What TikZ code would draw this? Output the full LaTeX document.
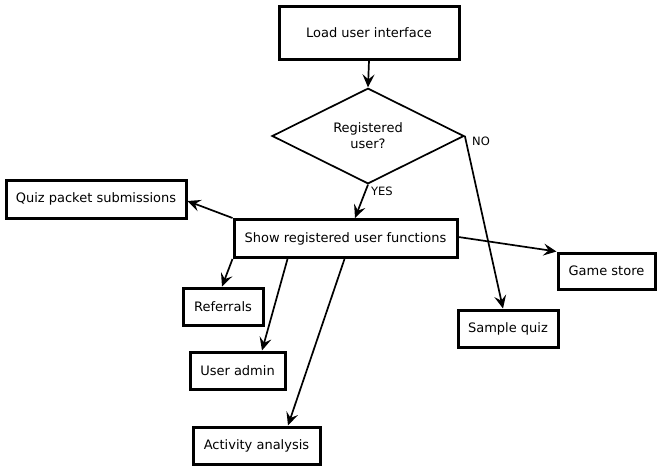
\documentclass[tikz,border=0pt]{standalone}
\usepackage{fontspec}
\setmainfont{DejaVu Sans}
\usetikzlibrary{arrows.meta,shapes.geometric}
\begin{document}
\begin{tikzpicture}[x=1pt,y=-1pt,
  every node/.style={font=\fontsize{13}{16}\selectfont, text=black},
  boxst/.style={draw, line width=3pt, inner sep=0pt, align=center},
  arr/.style={line width=1.7pt, -{Stealth[length=13pt,width=12pt,inset=5pt]}},
  lbl/.style={font=\fontsize{11.5}{13}\selectfont, inner sep=0pt}]
\useasboundingbox (0,0) rectangle (661,469);
\node[boxst, minimum width=180pt, minimum height=53pt] (load) at (369,32.5) {Load user interface};
\node[draw, diamond, line width=1.7pt, inner sep=0pt, minimum width=192pt, minimum height=95pt, align=center] (dec) at (368,136) {Registered\\user?};
\node[boxst, minimum width=223pt, minimum height=38pt] (show) at (345.5,238.5) {Show registered user functions};
\node[boxst, minimum width=180pt, minimum height=38pt] (quiz) at (96,199) {Quiz packet submissions};
\node[boxst, minimum width=80pt, minimum height=37pt] (ref) at (223,306.5) {Referrals};
\node[boxst, minimum width=95pt, minimum height=37pt] (admin) at (237.5,370.5) {User admin};
\node[boxst, minimum width=127pt, minimum height=37pt] (act) at (256.5,445.5) {Activity analysis};
\node[boxst, minimum width=97pt, minimum height=36pt] (game) at (606.5,271) {Game store};
\node[boxst, minimum width=100pt, minimum height=37pt] (sample) at (508,328.5) {Sample quiz};
\draw[arr] (load.south) -- (dec.north);
\draw[arr] (dec.south) -- (show.north -| 355,0);
\node[lbl, anchor=west] (yes) at (371,191) {YES};
\draw[arr] (dec.east) -- (sample.north -| 503,0);
\node[lbl, anchor=west] (no) at (472,141) {NO};
\draw[arr] (show.north west) -- (quiz.east |- 0,201);
\draw[arr] (show.south west) -- (ref.north -| 222,0);
\draw[arr] ([xshift=55pt]show.south west) -- (admin.north -| 262,0);
\draw[arr] ([xshift=112pt]show.south west) -- (act.north -| 288,0);
\draw[arr] ([yshift=1.5pt]show.east) -- (game.north west);
\end{tikzpicture}
\end{document}
